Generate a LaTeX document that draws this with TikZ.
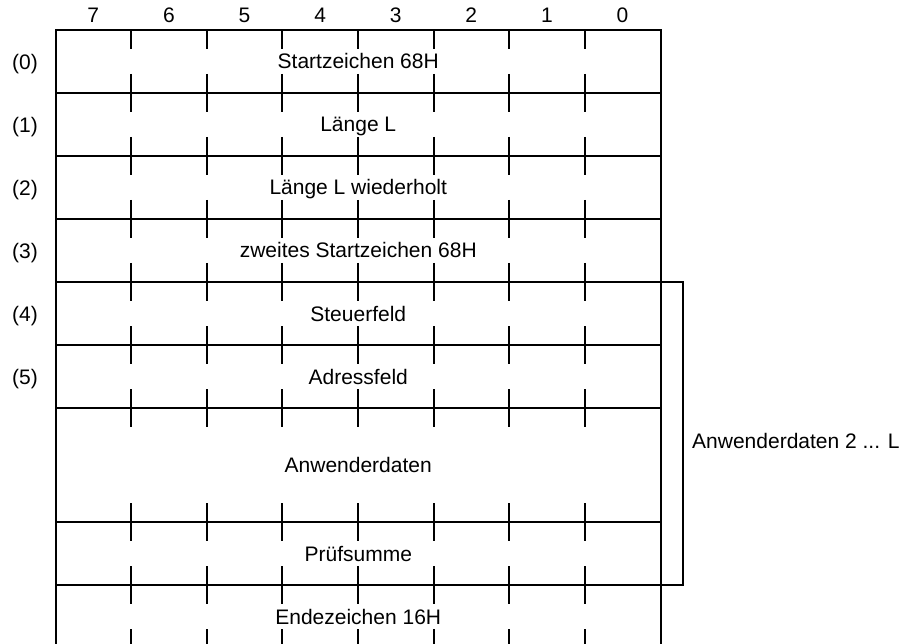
\documentclass[tikz,border=0pt]{standalone}
\usepackage{fontspec}
\setmainfont{Liberation Sans}
\begin{document}
\begin{tikzpicture}[x=1pt,y=-1pt,
  lbl/.style={font=\fontsize{21}{25}\selectfont, inner sep=0pt, text height=15pt, text depth=0pt},
  rowbox/.style={draw, line width=2pt, minimum width=605.5pt, minimum height=#1, inner sep=0pt, outer sep=0pt, anchor=north west, lbl},
  tickline/.style={line width=2pt}]
\useasboundingbox (0,0) rectangle (902,644);
\clip (0,0) rectangle (902,644);
% rows
\node[rowbox=63pt] (r0) at (55.5,30) {Startzeichen 68H};
\node[rowbox=63pt] (r1) at (55.5,93) {Länge L};
\node[rowbox=63pt] (r2) at (55.5,156) {Länge L wiederholt};
\node[rowbox=63pt] (r3) at (55.5,219) {zweites Startzeichen 68H};
\node[rowbox=63pt] (r4) at (55.5,282) {Steuerfeld};
\node[rowbox=63pt] (r5) at (55.5,345) {Adressfeld};
\node[rowbox=114pt] (r6) at (55.5,408) {Anwenderdaten};
\node[rowbox=63pt] (r7) at (55.5,522) {Prüfsumme};
\node[rowbox=63pt] (r8) at (55.5,585) {Endezeichen 16H};
% ticks
\foreach \y in {93,156,219,282,345,408,522,585}
  \foreach \i in {1,...,7}
    \draw[tickline] ({55.5+\i*75.6},\y-19) -- ++(0,38);
\foreach \i in {1,...,7} {
  \draw[tickline] ({55.5+\i*75.6},30) -- ++(0,19);
  \draw[tickline] ({55.5+\i*75.6},648) -- ++(0,-19);
}
% column labels
\foreach \n [count=\i] in {7,6,5,4,3,2,1,0}
  \node[lbl] (c\n) at ({55.5+(\i-0.5)*75.6},15) {\n};
% row labels
\node[lbl] (l0) at (25,62) {(0)};
\node[lbl] (l1) at (25,125) {(1)};
\node[lbl] (l2) at (25,188) {(2)};
\node[lbl] (l3) at (25,251) {(3)};
\node[lbl] (l4) at (25,314) {(4)};
\node[lbl] (l5) at (25,377) {(5)};
% bracket
\draw[tickline] (r4.north east) -- ++(22,0) |- (r7.south east);
\node[lbl, anchor=west] (ad) at (692,441) {Anwenderdaten 2 ... L};
\end{tikzpicture}
\end{document}
